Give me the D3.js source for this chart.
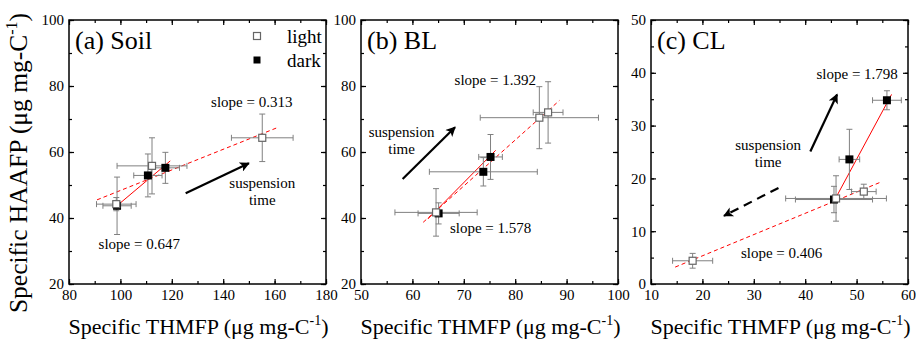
<!DOCTYPE html>
<html>
<head>
<meta charset="utf-8">
<script src="https://cdn.jsdelivr.net/npm/d3@7"></script>
<style>
  body { margin: 0; background: #fff; }
  svg text { font-family: "Liberation Serif", "Times New Roman", serif; }
</style>
</head>
<body>
<svg id="chart" width="916" height="340"></svg>
<script>
// [x, y, xErr, yErr]
const soilLight = [[155.2, 64.3, 12.0, 7.2], [112.3, 55.8, 13.6, 8.5], [98.4, 44.2, 7.7, 2.0]];
const soilDark = [[117.5, 55.2, 5.5, 4.7], [110.7, 52.9, 5.5, 6.5], [98.7, 43.7, 5.5, 8.7]];
const blLight = [[86.4, 72.0, 2.9, 9.3], [84.7, 70.4, 11.5, 9.4], [64.6, 41.7, 8.0, 7.2]];
const blDark = [[75.2, 58.5, 2.3, 6.8], [73.8, 54.0, 10.5, 4.3], [65.1, 41.4, 4.0, 3.2]];
const clLight = [[51.4, 17.5, 2.4, 1.4], [46.0, 16.2, 9.8, 4.3], [18.1, 4.4, 3.9, 1.4]];
const clDark = [[55.9, 34.8, 2.8, 1.8], [48.6, 23.6, 2.0, 5.7], [45.6, 16.0, 7.5, 2.5]];

// fitted lines, end points
const soilLightFit = [[90.9, 45.5], [160.8, 67.3]];
const soilDarkFit = [[98.2, 43.4], [119.4, 57.3]];
const blLightFit = [[62.1, 38.7], [88.6, 75.6]];
const blDarkFit = [[63.0, 39.7], [76.2, 60.5]];
const clLightFit = [[14.7, 3.2], [54.7, 19.3]];
const clDarkFit = [[45.5, 15.5], [56.8, 35.9]];

const slopeLabels = ['slope = 0.313', 'slope = 0.647', 'slope = 1.392', 'slope = 1.578', 'slope = 1.798', 'slope = 0.406'];
const panelTitles = ['(a) Soil', '(b) BL', '(c) CL'];
const legendLabels = ['light', 'dark'];

const svg = d3.select('#chart');
const plotTop = 20, plotBottom = 284;
const serif = '"Liberation Serif", "Times New Roman", serif';

const panels = [
  {
    title: panelTitles[0], left: 69, right: 326,
    xDomain: [80, 180], xMajor: 20, xMinor: 10,
    yDomain: [20, 100], yMajor: 20, yMinor: 10,
    light: soilLight, dark: soilDark, lightFit: soilLightFit, darkFit: soilDarkFit,
    arrows: [{ from: [125.4, 47.5], to: [150, 56.6], dashed: false }],
    lightSlope: { text: slopeLabels[0], at: [135.3, 73.7] },
    darkSlope: { text: slopeLabels[1], at: [91.5, 30.6] },
    susp: [155.2, 49.1],
    legend: true
  },
  {
    title: panelTitles[1], left: 361, right: 618,
    xDomain: [50, 100], xMajor: 10, xMinor: 5,
    yDomain: [20, 100], yMajor: 20, yMinor: 10,
    light: blLight, dark: blDark, lightFit: blLightFit, darkFit: blDarkFit,
    arrows: [{ from: [58.1, 51.8], to: [68.3, 67.5], dashed: false }],
    lightSlope: { text: slopeLabels[2], at: [68.2, 80.3] },
    darkSlope: { text: slopeLabels[3], at: [67.3, 35.5] },
    susp: [57.9, 64.6]
  },
  {
    title: panelTitles[2], left: 651, right: 908,
    xDomain: [10, 60], xMajor: 10, xMinor: 5,
    yDomain: [0, 50], yMajor: 10, yMinor: 5,
    light: clLight, dark: clDark, lightFit: clLightFit, darkFit: clDarkFit,
    arrows: [
      { from: [41.0, 25.1], to: [46.2, 35.9], dashed: false },
      { from: [34.8, 18.2], to: [24.2, 12.9], dashed: true }
    ],
    lightSlope: { text: slopeLabels[5], at: [27.5, 4.9] },
    darkSlope: { text: slopeLabels[4], at: [42.2, 38.8] },
    susp: [32.8, 25.4]
  }
];

svg.append('defs').append('marker')
  .attr('id', 'head')
  .attr('viewBox', '0 0 10 10')
  .attr('refX', 9).attr('refY', 5)
  .attr('markerWidth', 5.5).attr('markerHeight', 4.5)
  .attr('markerUnits', 'strokeWidth')
  .attr('orient', 'auto')
  .append('path').attr('d', 'M0,0L10,5L0,10L2.5,5Z').attr('fill', '#000');

function ticks(domain, step) {
  return d3.range(domain[0], domain[1] + step / 2, step);
}

panels.forEach(p => {
  const x = d3.scaleLinear().domain(p.xDomain).range([p.left, p.right]);
  const y = d3.scaleLinear().domain(p.yDomain).range([plotBottom, plotTop]);
  const g = svg.append('g');

  const xMaj = ticks(p.xDomain, p.xMajor), xMin = ticks(p.xDomain, p.xMinor);
  const yMaj = ticks(p.yDomain, p.yMajor), yMin = ticks(p.yDomain, p.yMinor);

  const axes = [
    [d3.axisBottom(x), `translate(0,${plotBottom})`, xMaj, xMin, true],
    [d3.axisTop(x), `translate(0,${plotTop})`, xMaj, xMin, false],
    [d3.axisLeft(y), `translate(${p.left},0)`, yMaj, yMin, true],
    [d3.axisRight(y), `translate(${p.right},0)`, yMaj, yMin, false]
  ];
  axes.forEach(([ax, tr, maj, min, labels]) => {
    const a = g.append('g').attr('transform', tr)
      .call(ax.tickValues(min).tickSize(-3).tickFormat(''));
    a.select('.domain').remove();
    const b = g.append('g').attr('transform', tr)
      .call(ax.tickValues(maj).tickSize(-5).tickPadding(labels ? 5 : 0)
        .tickFormat(labels ? d3.format('d') : ''))
      .attr('font-family', serif).attr('font-size', 15);
    b.select('.domain').remove();
    b.selectAll('text').attr('fill', '#000');
  });
  g.selectAll('.tick line').attr('stroke', '#000').attr('stroke-width', 1.2);

  g.append('rect')
    .attr('x', p.left).attr('y', plotTop)
    .attr('width', p.right - p.left).attr('height', plotBottom - plotTop)
    .attr('fill', 'none').attr('stroke', '#000').attr('stroke-width', 1.5);

  // fit lines
  const line = d3.line().x(d => x(d[0])).y(d => y(d[1]));
  g.append('path').attr('d', line(p.lightFit)).attr('fill', 'none')
    .attr('stroke', '#ff0000').attr('stroke-width', 1).attr('stroke-dasharray', '4,3');
  g.append('path').attr('d', line(p.darkFit)).attr('fill', 'none')
    .attr('stroke', '#ff0000').attr('stroke-width', 1);

  // error bars
  const cap = 3;
  const pts = p.light.concat(p.dark);
  const eb = g.append('g').attr('stroke', '#808080').attr('stroke-width', 1);
  pts.forEach(d => {
    const cx = x(d[0]), cy = y(d[1]);
    const x0 = x(d[0] - d[2]), x1 = x(d[0] + d[2]);
    const y0 = y(d[1] - d[3]), y1 = y(d[1] + d[3]);
    eb.append('line').attr('x1', x0).attr('x2', x1).attr('y1', cy).attr('y2', cy);
    eb.append('line').attr('x1', x0).attr('x2', x0).attr('y1', cy - cap).attr('y2', cy + cap);
    eb.append('line').attr('x1', x1).attr('x2', x1).attr('y1', cy - cap).attr('y2', cy + cap);
    eb.append('line').attr('x1', cx).attr('x2', cx).attr('y1', y0).attr('y2', y1);
    eb.append('line').attr('x1', cx - cap).attr('x2', cx + cap).attr('y1', y0).attr('y2', y0);
    eb.append('line').attr('x1', cx - cap).attr('x2', cx + cap).attr('y1', y1).attr('y2', y1);
  });

  const s = 8;
  g.selectAll('.dark').data(p.dark).enter().append('rect')
    .attr('x', d => x(d[0]) - s / 2).attr('y', d => y(d[1]) - s / 2)
    .attr('width', s).attr('height', s).attr('fill', '#000');
  g.selectAll('.light').data(p.light).enter().append('rect')
    .attr('x', d => x(d[0]) - s / 2 + 0.5).attr('y', d => y(d[1]) - s / 2 + 0.5)
    .attr('width', s - 1).attr('height', s - 1)
    .attr('fill', '#fff').attr('stroke', '#666').attr('stroke-width', 1.2);

  // arrows
  p.arrows.forEach(a => {
    g.append('line')
      .attr('x1', x(a.from[0])).attr('y1', y(a.from[1]))
      .attr('x2', x(a.to[0])).attr('y2', y(a.to[1]))
      .attr('stroke', '#000').attr('stroke-width', 2.2)
      .attr('stroke-dasharray', a.dashed ? '9,6' : null)
      .attr('marker-end', 'url(#head)');
  });

  // texts
  [p.lightSlope, p.darkSlope].forEach(t => {
    g.append('text').attr('x', x(t.at[0])).attr('y', y(t.at[1]))
      .attr('font-size', 15).text(t.text);
  });
  const st = g.append('text').attr('x', x(p.susp[0])).attr('y', y(p.susp[1]))
    .attr('font-size', 15).attr('text-anchor', 'middle');
  st.append('tspan').text('suspension');
  st.append('tspan').attr('x', x(p.susp[0])).attr('dy', 17.5).text('time');

  g.append('text').attr('x', p.left + 6).attr('y', 49)
    .attr('font-size', 26).text(p.title);

  if (p.legend) {
    legendLabels.forEach((lab, k) => {
      const ly = 36 + k * 24;
      g.append('rect').attr('x', 257 - 3.5).attr('y', ly - 3.5)
        .attr('width', 7).attr('height', 7)
        .attr('fill', k === 0 ? '#fff' : '#000')
        .attr('stroke', k === 0 ? '#666' : 'none').attr('stroke-width', 1.2);
      g.append('text').attr('x', 287).attr('y', ly + 7)
        .attr('font-size', 19).text(lab);
    });
  }

  // x axis title
  const xt = g.append('text').attr('x', (p.left + p.right) / 2 + 1).attr('y', 334)
    .attr('font-size', 22).attr('text-anchor', 'middle');
  xt.append('tspan').text('Specific THMFP (μg mg-C');
  xt.append('tspan').attr('font-size', 14).attr('dy', -9).text('-1');
  xt.append('tspan').attr('dy', 9).text(')');
});

const yt = svg.append('text')
  .attr('transform', `translate(27,163) rotate(-90)`)
  .attr('font-size', 25.5).attr('text-anchor', 'middle');
yt.append('tspan').text('Specific HAAFP (μg mg-C');
yt.append('tspan').attr('font-size', 16).attr('dy', -10).text('-1');
yt.append('tspan').attr('dy', 10).text(')');
</script>
</body>
</html>
